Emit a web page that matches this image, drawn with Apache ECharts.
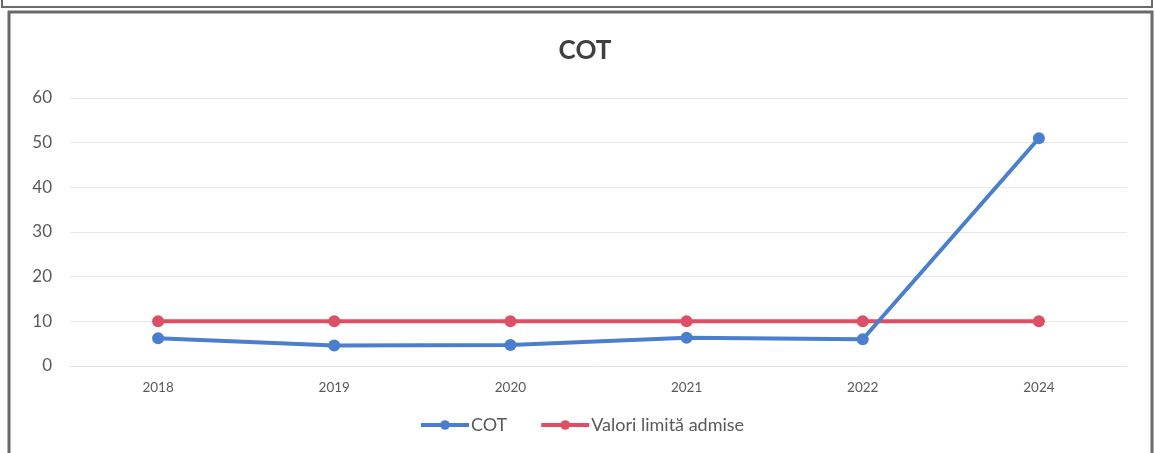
<!DOCTYPE html>
<html>
<head>
<meta charset="utf-8">
<script src="https://cdn.jsdelivr.net/npm/echarts@6/dist/echarts.min.js"></script>
<style>
html,body{margin:0;padding:0;background:#fff;}
#c{width:1156px;height:453px;}
</style>
</head>
<body>
<div id="c"></div>
<script>
const categories = ['2018', '2019', '2020', '2021', '2022', '2024'];
const cotValues = [6.2, 4.6, 4.7, 6.3, 6.0, 51];
const limitValues = [10, 10, 10, 10, 10, 10];
const yTicks = { min: 0, max: 60, interval: 10 };
const seriesNames = ['COT', 'Valori limită admise'];
const titleText = 'COT';

const FONT = 'Lato, "Open Sans", sans-serif';
const chart = echarts.init(document.getElementById('c'));
chart.setOption({
  backgroundColor: '#ffffff',
  animation: false,
  title: {
    text: titleText,
    left: 580, top: 33, textAlign: 'center',
    textStyle: { fontFamily: FONT, fontSize: 26, fontWeight: 'bold', color: '#404040' }
  },
  graphic: [
    { type: 'rect', shape: { x: 2, y: -10, width: 1150, height: 17 },
      style: { fill: 'none', stroke: '#6a6a6a', lineWidth: 2 } },
    { type: 'rect', shape: { x: 9, y: 12, width: 1143, height: 460 },
      style: { fill: 'none', stroke: '#6a6a6a', lineWidth: 3 } }
  ],
  grid: { left: 70, right: 29, top: 98, bottom: 87 },
  legend: {
    left: 414, top: 411,
    itemWidth: 48, itemHeight: 12, itemGap: 32,
    lineStyle: { width: 4 },
    textStyle: { fontFamily: FONT, fontSize: 18, color: '#595959', padding: [0, 0, 0, -3] },
    data: seriesNames
  },
  xAxis: {
    type: 'category',
    data: categories,
    boundaryGap: true,
    axisLine: { show: true, lineStyle: { color: '#e3e3e3', width: 1 } },
    axisTick: { show: false },
    axisLabel: { margin: 15, fontFamily: FONT, fontSize: 13.5, color: '#595959' }
  },
  yAxis: {
    type: 'value',
    min: yTicks.min, max: yTicks.max, interval: yTicks.interval,
    axisLine: { show: false },
    axisTick: { show: false },
    splitLine: { lineStyle: { color: '#e8e8e8', width: 1 } },
    axisLabel: { margin: 18, fontFamily: FONT, fontSize: 17, color: '#595959' }
  },
  series: [
    {
      name: seriesNames[0], type: 'line', data: cotValues,
      symbol: 'circle', symbolSize: 12,
      lineStyle: { color: '#4a7fd0', width: 4 },
      itemStyle: { color: '#4a7fd0' },
      z: 3
    },
    {
      name: seriesNames[1], type: 'line', data: limitValues,
      symbol: 'circle', symbolSize: 12,
      lineStyle: { color: '#de4e64', width: 4 },
      itemStyle: { color: '#de4e64' },
      z: 2
    }
  ]
});
</script>
</body>
</html>
